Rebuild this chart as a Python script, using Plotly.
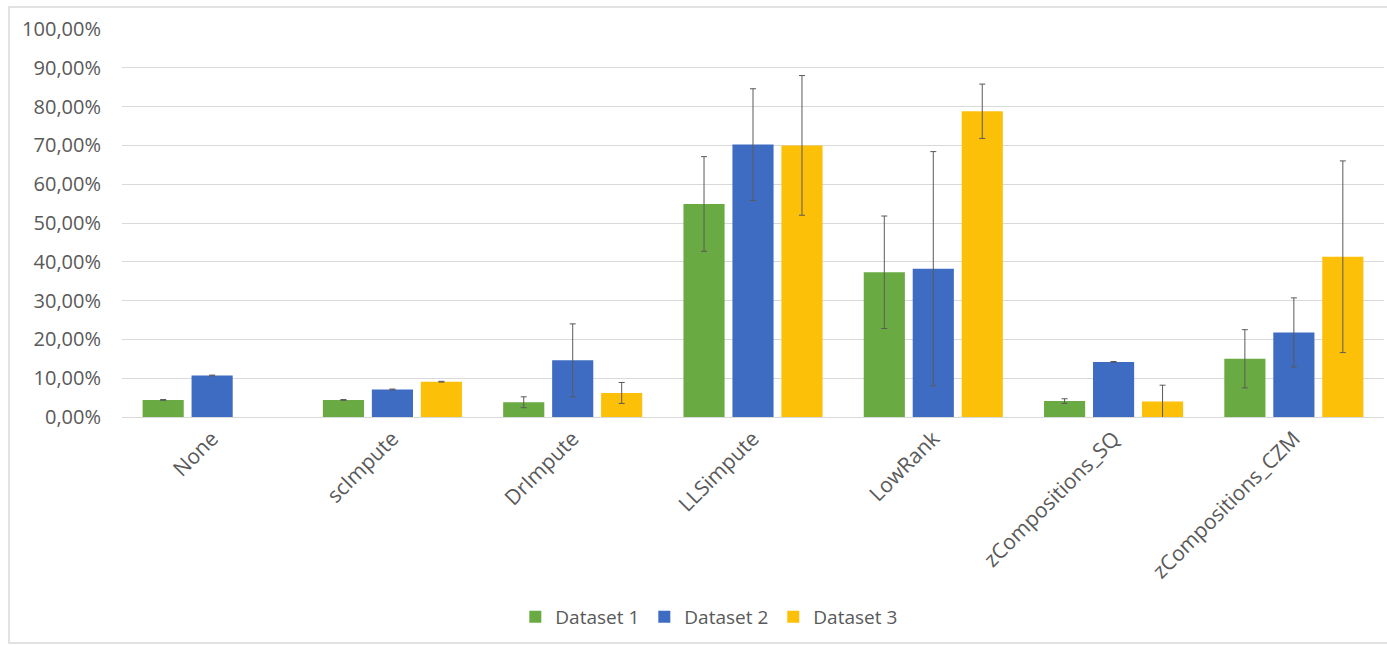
import plotly.graph_objects as go

# Imputation methods on the x axis
methods = ["None", "scImpute", "DrImpute", "LLSimpute", "LowRank",
           "zCompositions_SQ", "zCompositions_CZM"]

# Mean score (%) per dataset and its error (± %); no Dataset 3 bar for "None"
dataset1 = [4.4, 4.4, 3.8, 54.9, 37.3, 4.1, 15.0]
dataset1_err = [0.1, 0.1, 1.4, 12.2, 14.5, 0.6, 7.5]
dataset2 = [10.7, 7.1, 14.6, 70.2, 38.2, 14.2, 21.8]
dataset2_err = [0.1, 0.1, 9.4, 14.4, 30.2, 0.1, 8.9]
dataset3 = [None, 9.1, 6.2, 70.0, 78.8, 4.0, 41.3]
dataset3_err = [None, 0.1, 2.7, 18.0, 7.0, 4.2, 24.7]

series_names = ["Dataset 1", "Dataset 2", "Dataset 3"]
y_ticks = [0, 10, 20, 30, 40, 50, 60, 70, 80, 90, 100]
y_tick_labels = [f"{v},00%" for v in y_ticks]

colors = ["#6AAA42", "#3E6CC3", "#FCC009"]
text_color = "#595959"
font_family = "Open Sans, Liberation Sans, sans-serif"

fig = go.Figure()
for name, vals, errs, col in zip(series_names,
                                 [dataset1, dataset2, dataset3],
                                 [dataset1_err, dataset2_err, dataset3_err],
                                 colors):
    fig.add_trace(go.Bar(
        name=name,
        x=methods,
        y=vals,
        marker=dict(color=col, line=dict(width=0)),
        error_y=dict(type="data", array=errs, visible=True,
                     color="#5a5a5a", thickness=1, width=3),
    ))

fig.update_layout(
    width=1387,
    height=645,
    margin=dict(l=122, r=3, t=29, b=228),
    paper_bgcolor="white",
    plot_bgcolor="white",
    barmode="group",
    bargap=0.185,
    bargroupgap=0.16,
    font=dict(family=font_family, color=text_color, size=20),
    showlegend=True,
    legend=dict(
        orientation="h",
        x=0.465, xanchor="center",
        y=-0.515, yanchor="middle",
        font=dict(size=19, color=text_color),
        itemwidth=30,
        traceorder="normal",
    ),
    shapes=[dict(
        type="rect", xref="paper", yref="paper",
        x0=-0.0895, x1=1.005, y0=-0.5825, y1=1.0567,
        line=dict(color="#d9d9d9", width=1.5),
        fillcolor="rgba(0,0,0,0)", layer="below",
    )],
)

fig.update_yaxes(
    range=[0, 100],
    tickvals=y_ticks,
    ticktext=y_tick_labels,
    showgrid=True,
    gridcolor="#d9d9d9",
    gridwidth=1,
    zeroline=False,
    showline=False,
    ticks="",
    ticklabelstandoff=20,
    tickfont=dict(size=20, color=text_color),
)

fig.update_xaxes(
    tickangle=-45,
    showline=True,
    linecolor="#d9d9d9",
    linewidth=1,
    ticks="",
    tickfont=dict(size=21, color=text_color),
)

fig.write_html("out.html")
